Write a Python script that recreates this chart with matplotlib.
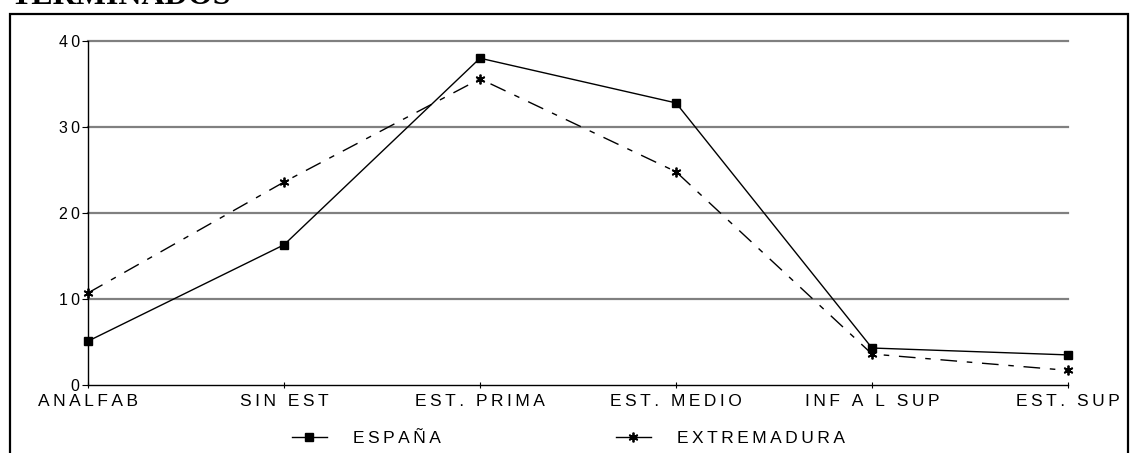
import matplotlib.pyplot as plt
from matplotlib.lines import Line2D
from matplotlib.patches import Rectangle

# categorias (nivel de estudios terminados)
categorias = ['ANALFAB', 'SIN EST', 'EST. PRIMA', 'EST. MEDIO', 'INF A L SUP', 'EST. SUP']
espana = [5.1, 16.3, 38.0, 32.8, 4.3, 3.5]
extremadura = [10.7, 23.6, 35.6, 24.8, 3.6, 1.7]
yticks = [0, 10, 20, 30, 40]
series = ['ESPAÑA', 'EXTREMADURA']

W, H = 1130, 453


def espaciar(txt):
    # imita el espaciado entre letras del original
    return '\u2009'.join(txt)


plt.rcParams['font.family'] = ['Liberation Sans', 'DejaVu Sans']

fig = plt.figure(figsize=(W / 100, H / 100), dpi=100)
ax = fig.add_axes([88 / W, 1 - 385 / H, (1068 - 88) / W, (385 - 41) / H])

x = list(range(len(categorias)))
ax.plot(x, espana, color='black', lw=1, marker='s', ms=5.5, clip_on=False, zorder=3)
ax.plot(x, extremadura, color='black', lw=1, marker=(6, 2, 0), ms=7,
        mew=1.3, dashes=(12, 7, 4, 7), clip_on=False, zorder=3)

ax.set_xlim(0, len(categorias) - 1)
ax.set_ylim(0, 40)
ax.set_yticks(yticks)
ax.set_yticklabels([espaciar(str(v)) for v in yticks], fontsize=11.5)
ax.set_xticks(x)
ax.set_xticklabels([espaciar(c) for c in categorias], fontsize=12.5)
ax.tick_params(axis='y', length=4, width=0.8, pad=2)
ax.tick_params(axis='x', direction='inout', length=4, width=0.8, pad=4.5)

for v in yticks[1:]:
    ax.axhline(v, color='#808080', lw=1.6, zorder=0, clip_on=False)

for lado in ['top', 'right']:
    ax.spines[lado].set_visible(False)
ax.spines['left'].set_linewidth(1)
ax.spines['bottom'].set_linewidth(1)

# leyenda: manijas sólidas como en el original
h1 = Line2D([], [], color='black', lw=1, marker='s', ms=5.5)
h2 = Line2D([], [], color='black', lw=1, marker=(6, 2, 0), ms=7, mew=1.3,
            markevery=[1])
fig.legend([h1, h2], [espaciar(s) for s in series],
           loc='center left', bbox_to_anchor=(292 / W, 1 - 438 / H), ncol=2,
           frameon=False, fontsize=12.5, handlelength=2.0, borderpad=0,
           borderaxespad=0, handletextpad=1.5, columnspacing=10.1)

# marco exterior
fig.patches.append(Rectangle((9.5 / W, -0.05), (1128 - 9.5) / W, 1.05 - 13.5 / H,
                             transform=fig.transFigure, fill=False,
                             lw=1.6, ec='black', clip_on=False))

fig.text(11 / W, 1 - 4.5 / H, 'TERMINADOS', fontsize=23, fontweight='bold',
         family='Liberation Serif', va='baseline', ha='left')

fig.savefig('out.png', dpi=100)
